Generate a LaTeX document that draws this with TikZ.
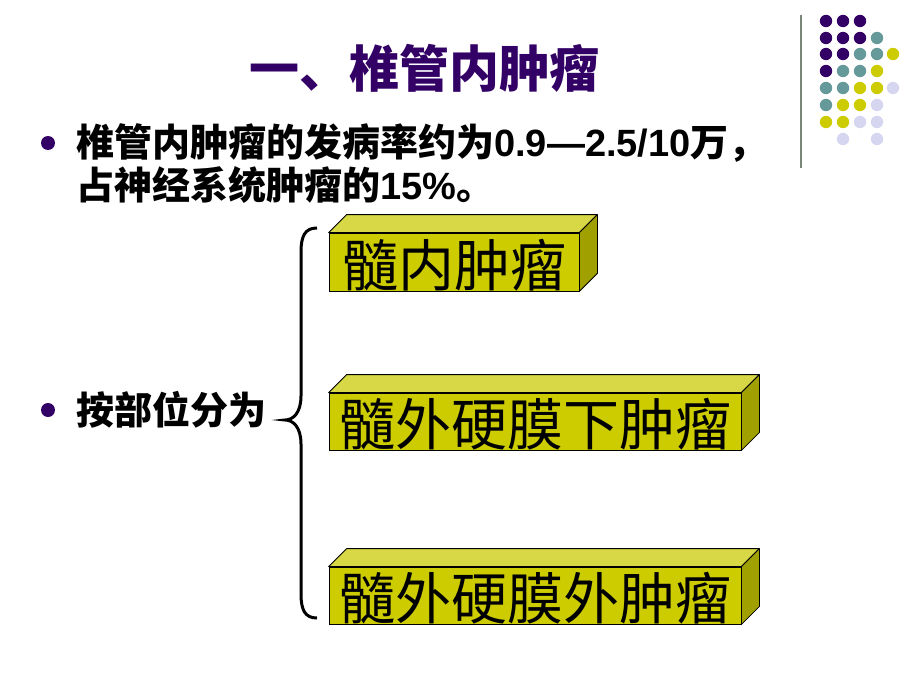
\documentclass[tikz,border=0pt]{standalone}
\usepackage{fontspec}
\setmainfont{Liberation Sans}
\newfontfamily\cjk{Noto Sans CJK SC}
\newfontfamily\latin{Liberation Sans}
\definecolor{deeppurple}{RGB}{51,0,102}
\definecolor{dotteal}{RGB}{102,153,153}
\definecolor{dotyellow}{RGB}{204,204,0}
\definecolor{dotlilac}{RGB}{214,214,240}
\definecolor{rulegray}{RGB}{120,135,120}
\definecolor{boxfront}{RGB}{204,204,0}
\definecolor{boxtop}{RGB}{216,216,70}
\definecolor{boxside}{RGB}{160,160,0}
\tikzset{
  bullet/.style={circle, fill=deeppurple, minimum size=14pt, inner sep=0pt},
  bodytext/.style={anchor=west, inner sep=0pt, font=\fontsize{38}{42}\selectfont\bfseries},
  frontface/.style={draw=black, line width=0.8pt, fill=boxfront, inner sep=0pt},
  boxface/.style={draw=black, line width=0.8pt, line join=round},
  boxtext/.style={inner sep=0pt, font=\cjk\fontsize{56}{60}\selectfont},
}
\begin{document}
\begin{tikzpicture}[x=1pt, y=-1pt]
\useasboundingbox[fill=white] (0,0) rectangle (920,690);

% corner decoration
\draw[rulegray, line width=2pt] (801,15) -- (801,168);
\foreach \px/\py/\col in {826/21/deeppurple, 843/21/deeppurple, 860/21/deeppurple,
  826/38/deeppurple, 843/38/deeppurple, 860/38/deeppurple, 877/38/dotteal,
  826/54/deeppurple, 843/54/deeppurple, 860/54/dotteal, 877/54/dotteal, 893/54/dotyellow,
  826/71/deeppurple, 843/71/dotteal, 860/71/dotteal, 877/71/dotyellow,
  826/88/dotteal, 843/88/dotteal, 860/88/dotyellow, 877/88/dotyellow, 893/88/dotlilac,
  826/105/dotteal, 843/105/dotyellow, 860/105/dotyellow, 877/105/dotlilac,
  826/122/dotyellow, 843/122/dotyellow, 860/122/dotlilac, 877/122/dotlilac,
  843/139/dotlilac, 877/139/dotlilac}
  \fill[\col] (\px,\py) circle (6.2);

% title
\node[text=deeppurple, font=\cjk\fontsize{50}{54}\selectfont\bfseries] (title) at (424,68) {一、椎管内肿瘤};

% bullets
\node[bullet] (b1) at (48,143) {};
\node[bodytext] (line1) at (76,143) {{\cjk\bfseries 椎管内肿瘤的发病率约为}{\latin\bfseries 0.9—2.5/10}{\cjk\bfseries 万，}};
\node[bodytext] (line2) at (76,185) {{\cjk\bfseries 占神经系统肿瘤的}{\latin\bfseries 15\%}{\cjk\bfseries 。}};
\node[bullet] (b2) at (48,410) {};
\node[bodytext] (line3) at (76,410) {\cjk\bfseries 按部位分为};

% brace
\coordinate (bt) at (317,228);
\coordinate (bm) at (285,420);
\coordinate (bb) at (317,618);
\draw[line width=3pt] (bt) .. controls (305,228) and (301,236) .. (301,252) -- (301,396)
  .. controls (301,413) and (293,420) .. (bm)
  .. controls (293,420) and (301,427) .. (301,444) -- (301,594)
  .. controls (301,610) and (305,618) .. (bb);

% boxes
\node[frontface, minimum width=250pt, minimum height=58pt] (box1) at (454,262) {};
\node[frontface, minimum width=412pt, minimum height=57pt] (box2) at (535,421.5) {};
\node[frontface, minimum width=412pt, minimum height=57pt] (box3) at (535,595.5) {};
\foreach \b in {box1, box2, box3} {
  \draw[boxface, fill=boxtop] (\b.north west) -- ++(18,-18) -- ([shift={(18,-18)}]\b.north east) -- (\b.north east) -- cycle;
  \draw[boxface, fill=boxside] (\b.north east) -- ++(18,-18) -- ([shift={(18,-18)}]\b.south east) -- (\b.south east) -- cycle;
}
\node[boxtext] (t1) at ([yshift=-3pt]box1.center) {髓内肿瘤};
\node[boxtext] (t2) at ([yshift=-3pt]box2.center) {髓外硬膜下肿瘤};
\node[boxtext] (t3) at ([yshift=-3pt]box3.center) {髓外硬膜外肿瘤};
\end{tikzpicture}
\end{document}
